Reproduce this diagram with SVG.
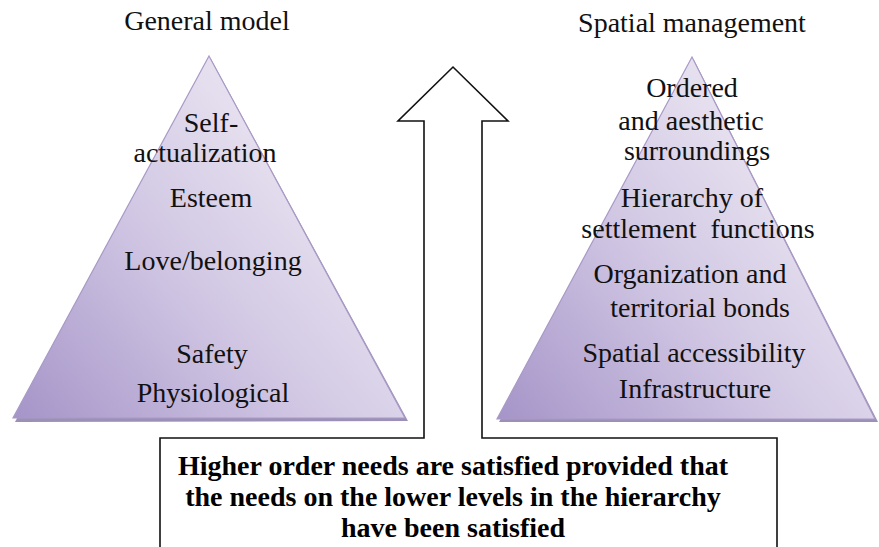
<svg xmlns="http://www.w3.org/2000/svg" width="879" height="547" viewBox="0 0 879 547" font-family="'Liberation Serif', 'Times New Roman', serif">
<defs>
<linearGradient id="pyr" x1="0" y1="1" x2="1" y2="0.2">
<stop offset="0" stop-color="#a594c8"/>
<stop offset="0.45" stop-color="#d0c6e3"/>
<stop offset="0.75" stop-color="#e4deee"/>
<stop offset="1" stop-color="#ebe7f3"/>
</linearGradient>
</defs>
<style>
text{font-family:'Liberation Serif','Times New Roman',serif;font-size:28px;fill:#111;text-anchor:middle}
text.b{font-weight:bold;fill:#000}
.ol{fill:#fff;stroke:#111;stroke-width:1.6}
.tri{fill:url(#pyr);stroke:#a899c6;stroke-width:1.2}
.sh{fill:#9c90b6}
</style>
<rect width="879" height="547" fill="#fff"/>
<g id="connectors">
<path class="ol" d="M160,438 H424 V121 H398 L453,67 L508,121 H482 V438 H777 V552 H160 Z"/>
</g>
<g id="general-model">
<polygon class="sh" points="211,59 408,421 15,422"/>
<polygon class="tri" points="209,56 405,418 13,418"/>
<text x="207" y="30">General model</text>
<text x="211" y="132">Self-</text>
<text x="205" y="162">actualization</text>
<text x="211" y="207">Esteem</text>
<text x="213" y="270">Love/belonging</text>
<text x="212" y="363">Safety</text>
<text x="213" y="402">Physiological</text>
</g>
<g id="spatial-management">
<polygon class="sh" points="694,60 878,422 499,422"/>
<polygon class="tri" points="692,57 875,419 497,419"/>
<text x="692" y="32">Spatial management</text>
<text x="692" y="97">Ordered</text>
<text x="691" y="130">and aesthetic</text>
<text x="697" y="160">surroundings</text>
<text x="692" y="207">Hierarchy of</text>
<text x="698" y="238">settlement&#160; functions</text>
<text x="690" y="283">Organization and</text>
<text x="700" y="317">territorial bonds</text>
<text x="694" y="362">Spatial accessibility</text>
<text x="695" y="398">Infrastructure</text>
</g>
<g id="caption">
<text class="b" x="453" y="475">Higher order needs are satisfied provided that</text>
<text class="b" x="453" y="506">the needs on the lower levels in the hierarchy</text>
<text class="b" x="453" y="537">have been satisfied</text>
</g>
</svg>
